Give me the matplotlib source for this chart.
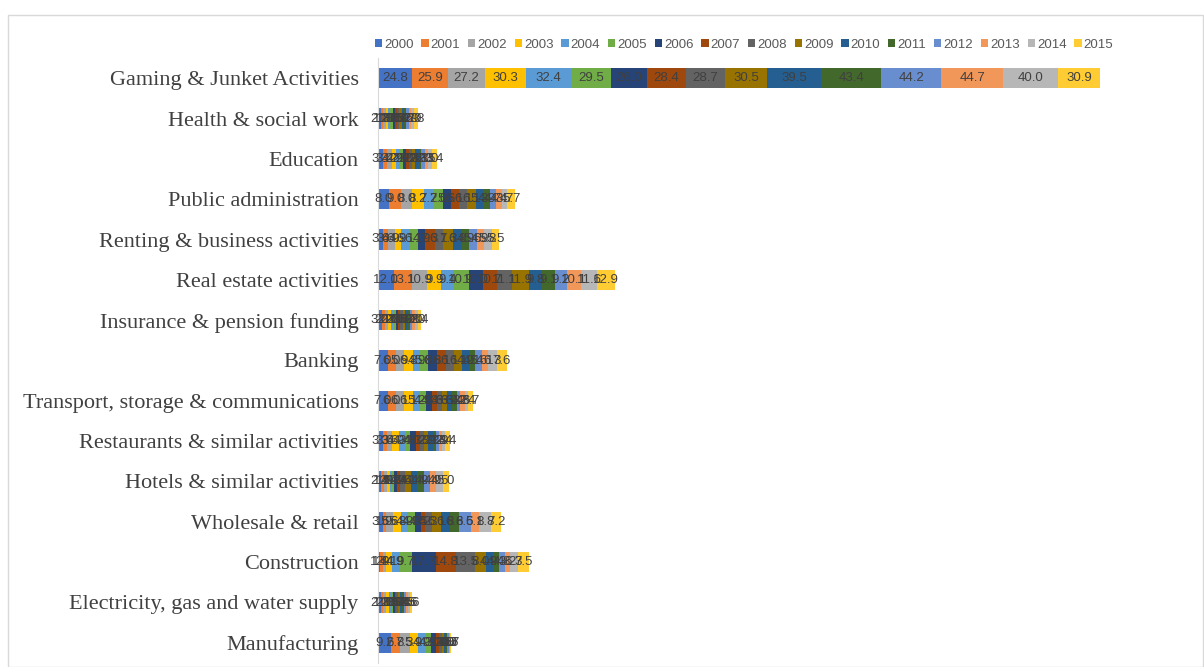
import matplotlib
matplotlib.use('Agg')
import matplotlib.pyplot as plt
from matplotlib.patches import Rectangle

years = [str(y) for y in range(2000, 2016)]

industries = [
    "Gaming & Junket Activities",
    "Health & social work",
    "Education",
    "Public administration",
    "Renting & business activities",
    "Real estate activities",
    "Insurance & pension funding",
    "Banking",
    "Transport, storage & communications",
    "Restaurants & similar activities",
    "Hotels & similar activities",
    "Wholesale & retail",
    "Construction",
    "Electricity, gas and water supply",
    "Manufacturing",
]

# one list per industry, values for 2000..2015
gaming = [24.8, 25.9, 27.2, 30.3, 32.4, 29.5, 26.0, 28.4, 28.7, 30.5, 39.5, 43.4, 44.2, 44.7, 40.0, 30.9]
health = [2.2, 1.8, 1.8, 1.7, 1.6, 1.6, 1.5, 1.5, 1.7, 1.9, 1.7, 1.6, 1.7, 1.9, 2.0, 2.8]
education = [3.4, 3.4, 3.7, 2.9, 2.6, 2.2, 2.0, 2.2, 2.3, 2.6, 2.3, 2.1, 2.3, 2.5, 3.0, 3.4]
public_admin = [8.0, 9.0, 8.0, 8.2, 7.2, 7.0, 5.6, 6.1, 6.1, 6.1, 5.3, 4.9, 4.7, 4.4, 3.7, 5.7]
renting = [3.6, 3.6, 4.9, 4.9, 6.1, 6.1, 4.9, 7.3, 6.1, 7.3, 6.8, 4.9, 5.6, 4.9, 5.8, 5.5]
real_estate = [12.0, 13.1, 10.9, 9.9, 9.4, 10.9, 10.0, 10.7, 11.1, 11.9, 9.8, 9.1, 9.2, 10.1, 11.6, 12.9]
insurance = [3.0, 2.2, 2.2, 2.0, 1.8, 2.0, 1.6, 1.6, 1.7, 1.8, 1.7, 1.7, 1.8, 2.0, 2.0, 2.4]
banking = [7.0, 6.0, 5.9, 6.8, 4.9, 5.8, 6.8, 6.1, 6.1, 6.1, 4.9, 4.1, 5.6, 4.1, 6.3, 7.6]
transport = [7.0, 6.0, 6.1, 6.1, 5.2, 4.9, 4.4, 3.6, 3.6, 3.6, 3.4, 3.4, 2.2, 3.6, 2.4, 3.7]
restaurants = [3.3, 3.6, 3.6, 4.9, 4.4, 3.6, 4.1, 3.2, 3.2, 2.9, 3.2, 2.2, 2.4, 1.9, 2.4, 3.4]
hotels = [2.4, 1.9, 1.9, 2.4, 1.7, 1.7, 1.9, 2.4, 3.6, 4.1, 4.4, 4.9, 4.4, 4.9, 4.5, 5.0]
wholesale = [3.6, 1.9, 5.6, 5.8, 4.9, 4.9, 4.4, 3.2, 5.3, 6.1, 6.8, 6.6, 8.5, 6.1, 8.8, 7.2]
construction = [1.7, 1.9, 2.4, 4.1, 4.9, 9.7, 17.7, 14.8, 13.5, 8.0, 4.9, 4.4, 4.8, 3.2, 6.3, 7.5]
electricity = [2.2, 1.8, 2.0, 1.8, 1.5, 1.5, 1.3, 1.3, 1.2, 1.3, 1.4, 1.4, 1.5, 1.5, 1.6, 1.6]
manufacturing = [9.2, 6.8, 7.3, 5.9, 4.9, 4.9, 3.2, 2.4, 1.9, 1.5, 1.5, 1.0, 1.0, 0.7, 0.5, 0.7]

rows = [gaming, health, education, public_admin, renting, real_estate, insurance,
        banking, transport, restaurants, hotels, wholesale, construction,
        electricity, manufacturing]

colors = ["#4472C4", "#ED7D31", "#A5A5A5", "#FFC000", "#5B9BD5", "#70AD47",
          "#264478", "#9E480E", "#636363", "#997300", "#255E91", "#43682B",
          "#698ED0", "#F1975A", "#B7B7B7", "#FFCD33"]

fig = plt.figure(figsize=(12.04, 6.67), dpi=100)
ax = fig.add_axes([378 / 1204, 1 - 663 / 667, (1190 - 378) / 1204, (663 - 58) / 667])

ypos = list(range(len(industries)))
left = [0.0] * len(industries)
for j, year in enumerate(years):
    vals = [r[j] for r in rows]
    bars = ax.barh(ypos, vals, left=left, height=0.5, color=colors[j],
                   label=year, linewidth=0)
    ax.bar_label(bars, labels=["%.1f" % v for v in vals], label_type='center',
                 fontsize=9.5, color="#404040", family="Liberation Sans")
    left = [a + b for a, b in zip(left, vals)]

ax.set_ylim(len(industries) - 0.5, -0.5)
ax.set_xlim(0, 592)
ax.set_yticks(ypos)
ax.set_yticklabels(industries, family="Liberation Serif", fontsize=16, color="#404040")
ax.tick_params(axis='y', length=0, pad=14)
ax.set_xticks([])
for s in ["top", "right", "bottom"]:
    ax.spines[s].set_visible(False)
ax.spines["left"].set_color("#D9D9D9")

fig.legend(loc="center", bbox_to_anchor=(744 / 1204, 1 - 45 / 667), ncol=16,
           frameon=False, handlelength=0.55, handleheight=0.55,
           handletextpad=0.15, columnspacing=0.6, labelcolor="#595959",
           prop={"family": "Liberation Sans", "size": 9.5})

fig.patches.append(Rectangle((8 / 1204, 0), 1 - 9 / 1204, 1 - 15 / 667,
                             transform=fig.transFigure, fill=False,
                             edgecolor="#D9D9D9", linewidth=1))

plt.savefig("out.png")
